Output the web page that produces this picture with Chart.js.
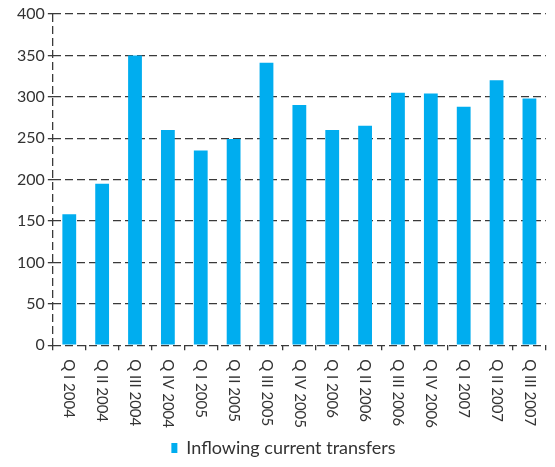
<!DOCTYPE html>
<html>
<head>
<meta charset="utf-8">
<script src="https://cdn.jsdelivr.net/npm/chart.js@4/dist/chart.umd.min.js"></script>
<style>
  html, body { margin: 0; padding: 0; background: #ffffff; }
  #wrap { width: 555px; height: 467px; }
</style>
</head>
<body>
<div id="wrap"><canvas id="c" width="555" height="467"></canvas></div>
<script>
const categories = ["Q I 2004","Q II 2004","Q III 2004","Q IV 2004","Q I 2005","Q II 2005","Q III 2005","Q IV 2005","Q I 2006","Q II 2006","Q III 2006","Q IV 2006","Q I 2007","Q II 2007","Q III 2007"];
const inflowingValues = [158,195,350,260,235,249,341,290,260,265,305,304,288,320,298];
const seriesName = "Inflowing current transfers";
const yMin = 0, yMax = 400, yStep = 50;

const FONT = "Lato, 'DejaVu Sans', sans-serif";
const GRID = '#3a3a3a';

const labelPlugin = {
  id: 'downLabels',
  afterDraw(chart) {
    const x = chart.scales.x;
    const ctx = chart.ctx;
    ctx.save();
    ctx.font = "15px " + FONT;
    ctx.fillStyle = '#333333';
    ctx.textAlign = 'left';
    ctx.textBaseline = 'middle';
    const top = x.top + 14;
    x.ticks.forEach((t, i) => {
      const px = x.getPixelForTick(i);
      ctx.save();
      ctx.translate(px, top);
      ctx.rotate(Math.PI / 2);
      ctx.fillText(categories[i], 0, 0);
      ctx.restore();
    });
    ctx.restore();
  }
};

new Chart(document.getElementById('c'), {
  type: 'bar',
  data: {
    labels: categories,
    datasets: [{
      label: seriesName,
      data: inflowingValues,
      backgroundColor: '#00adef',
      borderWidth: 0,
      barPercentage: 0.42,
      categoryPercentage: 1.0
    }]
  },
  options: {
    responsive: false,
    animation: false,
    layout: { padding: { top: 14, right: 2, left: 14, bottom: 0 } },
    plugins: {
      legend: {
        display: true,
        position: 'bottom',
        labels: {
          font: { family: FONT, size: 18 },
          color: '#333333',
          boxWidth: 6,
          boxHeight: 10,
          padding: 5
        }
      },
      tooltip: { enabled: false }
    },
    scales: {
      x: {
        offset: true,
        grid: {
          offset: true,
          color: (c) => ((c.index === 0 || c.index === categories.length) ? GRID : 'rgba(0,0,0,0)'),
          tickColor: GRID,
          tickLength: 5,
          lineWidth: 1.3,
          drawOnChartArea: true
        },
        border: { display: false, dash: [8, 4] },
        ticks: {
          color: 'rgba(0,0,0,0)',
          font: { family: FONT, size: 15 },
          minRotation: 90,
          maxRotation: 90,
          autoSkip: false,
          padding: 7.5
        }
      },
      y: {
        min: yMin,
        max: yMax,
        grid: {
          color: GRID,
          tickColor: GRID,
          tickLength: 5,
          lineWidth: 1.3
        },
        border: { display: false, dash: [8, 4] },
        ticks: {
          stepSize: yStep,
          color: '#333333',
          font: { family: FONT, size: 16 },
          padding: 3
        }
      }
    }
  },
  plugins: [labelPlugin]
});
</script>
</body>
</html>
